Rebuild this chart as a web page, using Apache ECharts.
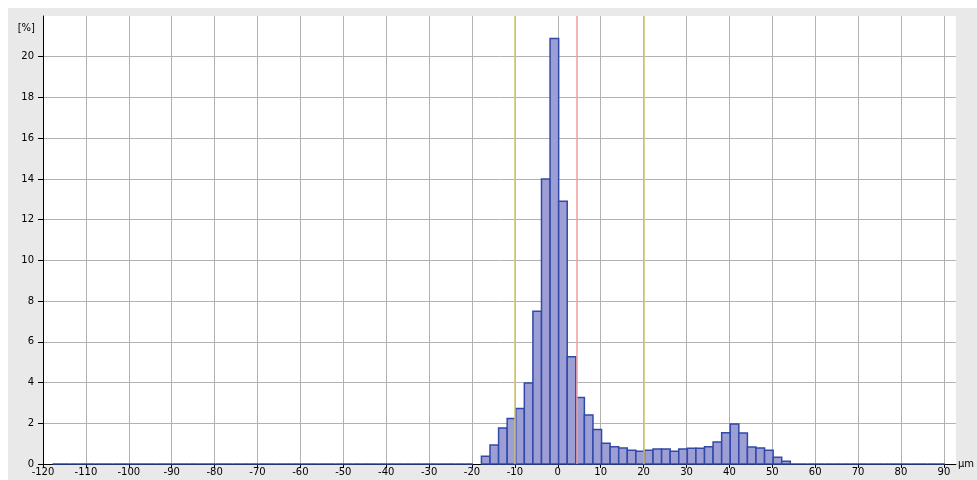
<!DOCTYPE html>
<html>
<head>
<meta charset="utf-8">
<script src="https://cdn.jsdelivr.net/npm/echarts@6/dist/echarts.min.js"></script>
<style>
  html, body { margin: 0; padding: 0; background: #fff; overflow: hidden; }
  #chart { position: absolute; left: 8px; top: 8px; width: 969px; height: 472px; }
</style>
</head>
<body>
<div id="chart"></div>
<script>
// bin centers (µm), each bin is binWidth wide
var binWidth = 2;
var binCenters = [
  -116.8, -114.8, -112.8, -110.8, -108.8, -106.8, -104.8, -102.8, -100.8, -98.8, -96.8, -94.8, -92.8,
  -90.8, -88.8, -86.8, -84.8, -82.8, -80.8, -78.8, -76.8, -74.8, -72.8, -70.8, -68.8, -66.8, -64.8,
  -62.8, -60.8, -58.8, -56.8, -54.8, -52.8, -50.8, -48.8, -46.8, -44.8, -42.8, -40.8, -38.8, -36.8,
  -34.8, -32.8, -30.8, -28.8, -26.8, -24.8, -22.8, -20.8, -18.8, -16.8, -14.8, -12.8, -10.8, -8.8,
  -6.8, -4.8, -2.8, -0.8, 1.2, 3.2, 5.2, 7.2, 9.2, 11.2, 13.2, 15.2, 17.2, 19.2, 21.2, 23.2, 25.2,
  27.2, 29.2, 31.2, 33.2, 35.2, 37.2, 39.2, 41.2, 43.2, 45.2, 47.2, 49.2, 51.2, 53.2, 55.2, 57.2,
  59.2, 61.2, 63.2, 65.2, 67.2, 69.2, 71.2, 73.2, 75.2, 77.2, 79.2, 81.2, 83.2, 85.2, 87.2, 89.2
];
// share per bin [%]
var percent = [
  0, 0, 0, 0, 0, 0, 0, 0, 0, 0, 0, 0, 0,
  0, 0, 0, 0, 0, 0, 0, 0, 0, 0, 0, 0, 0, 0,
  0, 0, 0, 0, 0, 0, 0, 0, 0, 0, 0, 0, 0, 0,
  0, 0, 0, 0, 0, 0, 0, 0, "-", 0.38, 0.93, 1.77, 2.23, 2.72,
  3.98, 7.5, 14.0, 20.9, 12.9, 5.27, 3.26, 2.41, 1.69, 1.02, 0.85, 0.78, 0.68, 0.63, 0.67, 0.74, 0.74,
  0.63, 0.74, 0.77, 0.77, 0.85, 1.08, 1.54, 1.97, 1.52, 0.84, 0.79, 0.67, 0.33, 0.13, 0, 0,
  0, 0, 0, 0, 0, 0, 0, 0, 0, 0, 0, 0, 0, 0, 0, 0
];
// vertical marker lines (µm)
var limitLines = [-10, 20];
var meanLine = 4.5;

var xTicks = { min: -120, max: 92.8, interval: 10 };
var yTicks = { min: 0, max: 22, interval: 2 };

var font = "DejaVu Sans";
var chart = echarts.init(document.getElementById("chart"));

var barData = binCenters.map(function (x, i) {
  return [x, percent[i]];
});

var markData = limitLines.map(function (v) {
  return { xAxis: v, lineStyle: { color: "#cbc56a" } };
});
markData.push({ xAxis: meanLine, lineStyle: { color: "#f29c9c" } });

function renderBin(params, api) {
  var x = api.value(0);
  var y = api.value(1);
  if (isNaN(y)) {
    return null;
  }
  var p0 = api.coord([x - binWidth / 2, y]);
  var p1 = api.coord([x + binWidth / 2, 0]);
  return {
    type: "rect",
    shape: { x: p0[0], y: p0[1], width: p1[0] - p0[0], height: p1[1] - p0[1] },
    style: { fill: "#9d9fd4", stroke: "#3149a8", lineWidth: 1.5 },
  };
}

chart.setOption({
  animation: false,
  backgroundColor: "#e9e9e9",
  grid: {
    left: 35,
    top: 8,
    right: 19,
    bottom: 16,
    show: true,
    backgroundColor: "#fff",
    borderWidth: 0,
  },
  xAxis: {
    type: "value",
    min: xTicks.min,
    max: xTicks.max,
    interval: xTicks.interval,
    name: "µm",
    nameLocation: "end",
    nameGap: 2,
    nameTextStyle: { color: "#000", fontFamily: font, fontSize: 10, verticalAlign: "middle", align: "left" },
    axisLine: { onZero: false, lineStyle: { color: "#000", width: 1 } },
    axisTick: { show: true, length: 4, lineStyle: { color: "#000" } },
    axisLabel: {
      color: "#000",
      fontFamily: font,
      fontSize: 10,
      margin: 3,
      showMaxLabel: false,
    },
    splitLine: { show: true, showMaxLine: false, lineStyle: { color: "#b2b2b2", width: 1 } },
  },
  yAxis: {
    type: "value",
    min: yTicks.min,
    max: yTicks.max,
    interval: yTicks.interval,
    name: "[%]",
    nameLocation: "end",
    nameGap: -12,
    nameTextStyle: {
      color: "#000",
      fontFamily: font,
      fontSize: 10,
      align: "right",
      verticalAlign: "middle",
      padding: [0, 8, 0, 0],
    },
    axisLine: { show: true, onZero: false, lineStyle: { color: "#000", width: 1 } },
    axisTick: { show: true, length: 5, lineStyle: { color: "#000" } },
    axisLabel: {
      color: "#000",
      fontFamily: font,
      fontSize: 10,
      margin: 9,
      showMaxLabel: false,
    },
    splitLine: { show: true, showMaxLine: false, lineStyle: { color: "#b2b2b2", width: 1 } },
  },
  series: [
    {
      type: "custom",
      renderItem: renderBin,
      encode: { x: 0, y: 1 },
      data: barData,
      markLine: {
        silent: true,
        symbol: ["none", "none"],
        label: { show: false },
        lineStyle: { type: "solid", width: 1.5 },
        data: markData,
      },
    },
  ],
});
</script>
</body>
</html>
